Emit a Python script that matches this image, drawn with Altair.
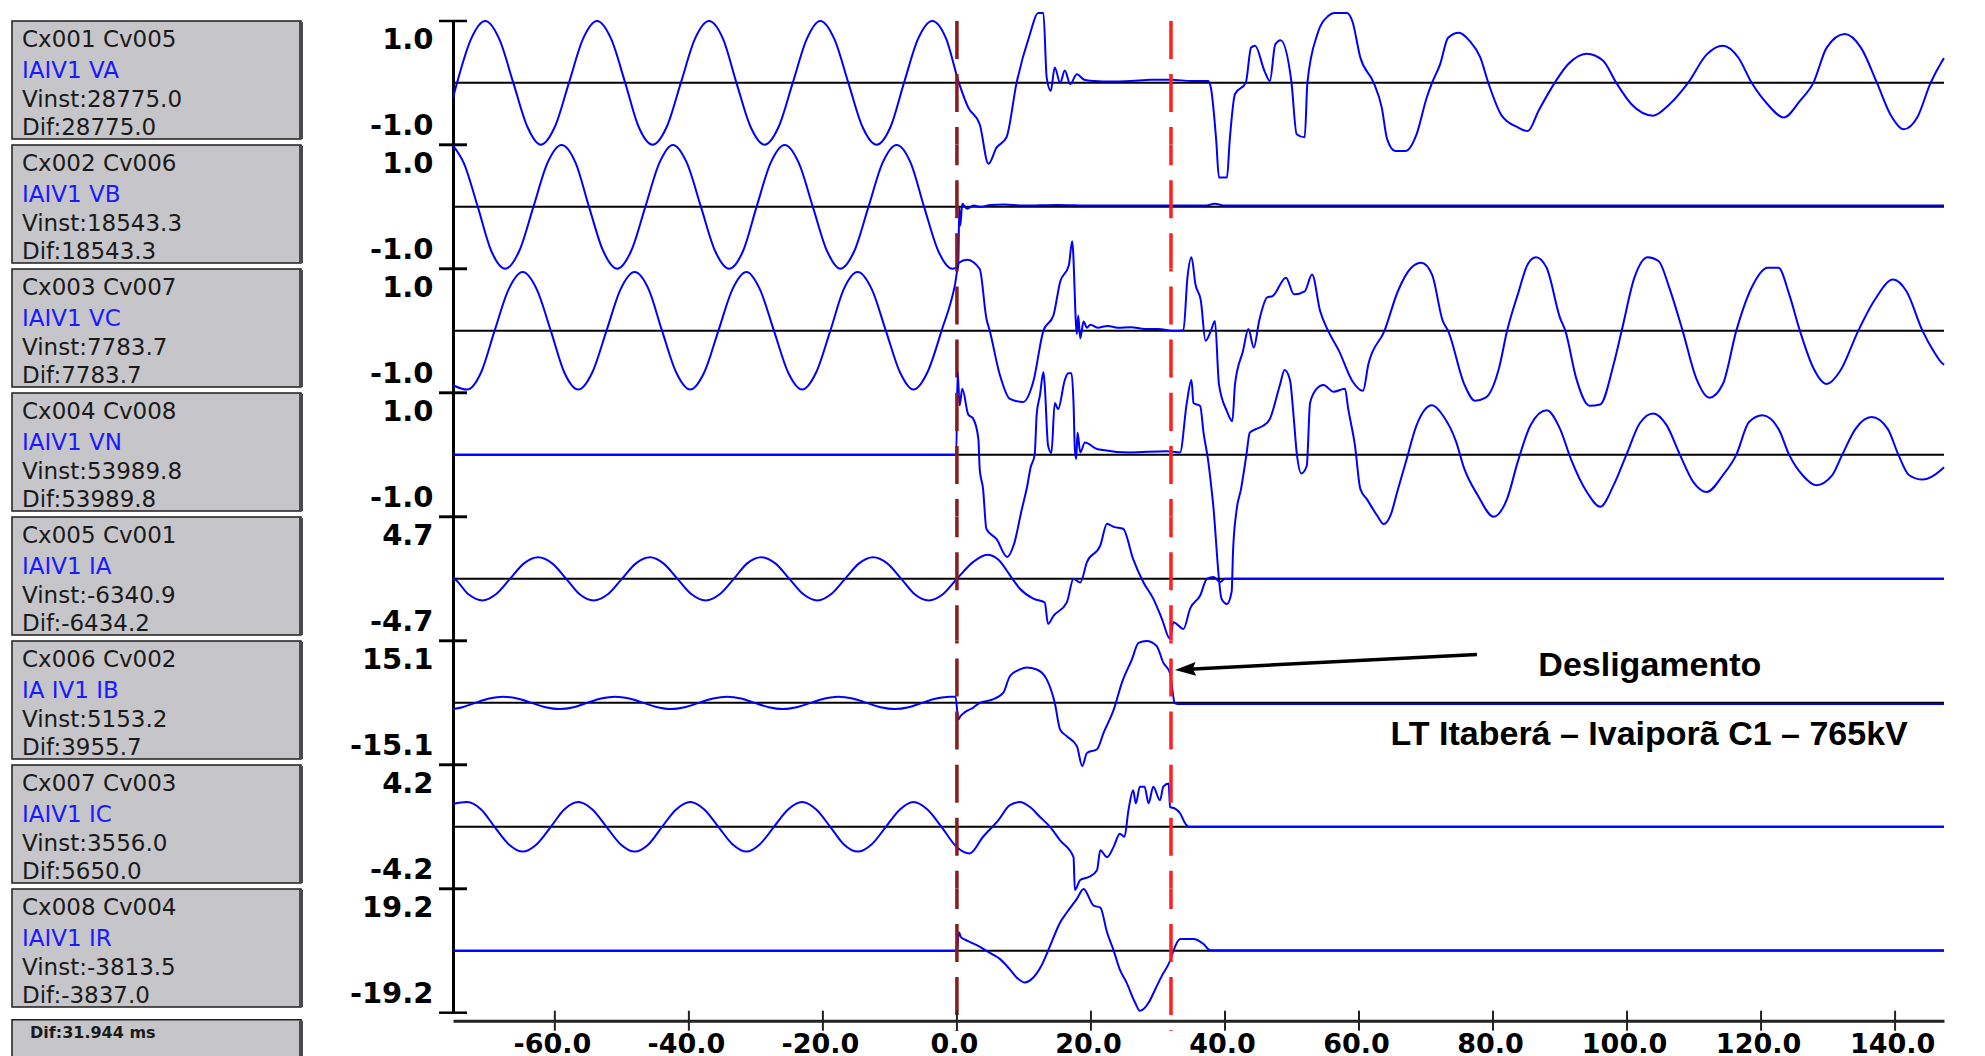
import altair as alt
import pandas as pd

# ---------------- layout constants (styles / sizes) ----------------
T_MIN, T_MAX = -75.2, 147.3
W, H = 1491, 123.7

# ---------------- data ----------------
CHANNELS = ["VA", "VB", "VC", "VN", "IA", "IB", "IC", "IR"]
FULL_SCALE = [1.0, 1.0, 1.0, 1.0, 4.7, 15.1, 4.2, 19.2]
BOX_LINE1 = ["Cx001 Cv005", "Cx002 Cv006", "Cx003 Cv007", "Cx004 Cv008",
             "Cx005 Cv001", "Cx006 Cv002", "Cx007 Cv003", "Cx008 Cv004"]
BOX_LINE2 = ["IAIV1 VA", "IAIV1 VB", "IAIV1 VC", "IAIV1 VN",
             "IAIV1 IA", "IA IV1 IB", "IAIV1 IC", "IAIV1 IR"]
BOX_VINST = ["Vinst:28775.0", "Vinst:18543.3", "Vinst:7783.7", "Vinst:53989.8",
             "Vinst:-6340.9", "Vinst:5153.2", "Vinst:3556.0", "Vinst:-3813.5"]
BOX_DIF = ["Dif:28775.0", "Dif:18543.3", "Dif:7783.7", "Dif:53989.8",
           "Dif:-6434.2", "Dif:3955.7", "Dif:5650.0", "Dif:-3837.0"]
CURSOR_DIF = "Dif:31.944 ms"
CURSORS = [0.0, 31.944]
CURSOR_COLORS = ["#8b1a1a", "#ff1f1f"]
X_TICKS = [-60, -40, -20, 0, 20, 40, 60, 80, 100, 120, 140]

# samples: (time ms, value as fraction of the channel full scale)
VA = [(-75.2,-0.24),(-74.6,0),(-72.5,0.71),(-70.4,1.0),(-68.3,0.71),(-66.2,0),(-64.1,-0.71),(-62.1,-1.0),
      (-60.0,-0.71),(-57.9,0),(-55.8,0.71),(-53.7,1.0),(-51.6,0.71),(-49.5,0),(-47.5,-0.71),(-45.4,-1.0),
      (-43.3,-0.71),(-41.2,0),(-39.1,0.71),(-37.0,1.0),(-34.9,0.71),(-32.9,0),(-30.8,-0.71),(-28.7,-1.0),
      (-26.6,-0.71),(-24.5,0),(-22.4,0.71),(-20.4,1.0),(-18.3,0.71),(-16.2,0),(-14.1,-0.71),(-12.0,-1.0),
      (-9.9,-0.71),(-7.9,0),(-5.8,0.71),(-3.7,1.0),(-1.6,0.71),(0.3,0),
      (1.7,-0.4),(3.4,-0.67),(4.7,-1.31),(5.9,-1.05),(7.4,-0.88),(8.9,0),(10.9,0.79),(12.1,1.13),(12.9,1.13),
      (13.4,0.08),(14.0,-0.13),(14.6,0.25),(15.4,0.0),(16.1,0.2),(16.9,-0.02),(17.9,0.14),(19.0,0.05),
      (20.5,0.03),(23.0,0.02),(26.0,0.03),(29.0,0.05),(32.0,0.05),(35.0,0.03),(37.5,0.03),
      (37.9,-0.08),(38.7,-0.94),(39.1,-1.53),(40.3,-1.53),(40.7,-0.94),(41.5,-0.18),(43.1,0.0),(43.9,0.57),
      (44.5,0.6),(45.9,0.19),(46.7,0.03),(47.5,0.62),(48.3,0.69),(49.9,0.03),(50.7,-0.83),(51.9,-0.88),
      (52.3,0),(53.8,0.79),(55.4,1.08),(56.3,1.13),(58.2,1.13),(59.0,1.0),(60.2,0.41),(62.2,0),(63.4,-0.4),
      (64.2,-0.91),(65.4,-1.1),(67.0,-1.1),(68.6,-0.83),(70.1,-0.24),(70.9,0),(72.1,0.3),(73.3,0.73),
      (74.9,0.81),(76.5,0.68),(78.1,0.41),(79.3,0),(81.3,-0.53),(83.7,-0.72),(85.2,-0.78),(86.8,-0.45),
      (89.2,0),(91.2,0.3),(94.0,0.47),(96.4,0.36),(98.4,0),(100.7,-0.35),(103.9,-0.53),(106.3,-0.35),
      (109.1,0),(111.9,0.46),(114.3,0.6),(116.6,0.41),(118.6,0),(121.0,-0.35),(123.4,-0.56),(125.8,-0.29),
      (127.8,0),(129.8,0.57),(132.5,0.79),(134.9,0.57),(137.3,0),(139.3,-0.51),(141.3,-0.75),(143.3,-0.56),
      (145.3,0),(146.9,0.33),(147.3,0.4)]

VB = [(-75.2,0.99),(-73.6,0.71),(-71.5,0),(-69.5,-0.71),(-67.4,-1.0),(-65.3,-0.71),(-63.2,0),(-61.1,0.71),
      (-59.0,1.0),(-56.9,0.71),(-54.9,0),(-52.8,-0.71),(-50.7,-1.0),(-48.6,-0.71),(-46.5,0),(-44.4,0.71),
      (-42.4,1.0),(-40.3,0.71),(-38.2,0),(-36.1,-0.71),(-34.0,-1.0),(-31.9,-0.71),(-29.9,0),(-27.8,0.71),
      (-25.7,1.0),(-23.6,0.71),(-21.5,0),(-19.4,-0.71),(-17.4,-1.0),(-15.3,-0.71),(-13.2,0),(-11.1,0.71),
      (-9.0,1.0),(-6.9,0.71),(-4.9,0),(-2.8,-0.71),(-0.7,-1.0),(0.2,-0.97),(0.35,0.0),(0.5,-0.3),(0.8,0.05),
      (1.5,-0.03),(2.5,0.02),(3.5,0.0),(5.0,0.03),(7.0,0.04),(10.0,0.02),(15.0,0.03),(20.0,0.02),(30.0,0.02),
      (37.0,0.02),(38.5,0.05),(40.0,0.02),(60.0,0.02),(100.0,0.02),(147.3,0.02)]

VC = [(-75.2,-0.88),(-73.1,-0.95),(-71.0,-0.67),(-69.0,0),(-66.9,0.67),(-64.8,0.95),(-62.7,0.67),(-60.6,0),
      (-58.6,-0.67),(-56.5,-0.95),(-54.4,-0.67),(-52.3,0),(-50.2,0.67),(-48.1,0.95),(-46.0,0.67),(-44.0,0),
      (-41.9,-0.67),(-39.8,-0.95),(-37.7,-0.67),(-35.6,0),(-33.5,0.67),(-31.4,0.95),(-29.4,0.67),(-27.3,0),
      (-25.2,-0.67),(-23.1,-0.95),(-21.0,-0.67),(-18.9,0),(-16.9,0.67),(-14.8,0.95),(-12.7,0.67),(-10.6,0),
      (-8.5,-0.67),(-6.5,-0.95),(-4.4,-0.67),(-2.3,0),(-0.3,0.74),(0.3,1.1),(1.5,1.15),(3.4,1.0),(4.4,0.2),
      (4.9,0),(6.4,-0.71),(7.9,-1.1),(9.9,-1.15),(11.4,-0.82),(12.9,0),(14.4,0.25),(15.4,0.79),(16.7,1.06),
      (17.2,1.45),(17.9,-0.05),(18.1,0.25),(18.4,-0.12),(18.9,0.15),(19.4,0.05),(19.9,0.1),(21.0,0.05),
      (22.5,0.08),(24.0,0.05),(26.0,0.06),(28.0,0.03),(30.0,0.03),(32.5,0.0),(33.8,0.01),
      (34.4,0.86),(35.0,1.19),(35.6,0.75),(36.4,0.49),(37.1,-0.16),(37.9,0),(38.5,0.16),(39.1,-0.86),
      (40.3,-1.3),(41.1,-1.46),(41.5,-0.86),(42.7,-0.32),(43.5,0.03),(44.3,-0.27),(45.1,0.16),(46.3,0.54),
      (47.1,0.56),(49.1,0.86),(50.3,0.59),(51.9,0.64),(53.0,0.91),(54.2,0.32),(55.4,0),(57.0,-0.32),
      (59.0,-0.81),(60.6,-0.97),(61.4,-0.54),(63.8,0),(65.8,0.64),(67.8,1.02),(69.3,1.1),(70.9,0.91),
      (72.5,0.16),(73.3,0),(75.7,-0.86),(77.3,-1.13),(78.9,-1.08),(80.9,-0.6),(82.1,0),(83.7,0.59),
      (85.2,1.08),(86.4,1.19),(88.0,1.02),(90.0,0.21),(90.8,0),(92.4,-0.76),(94.4,-1.21),(96.0,-1.19),
      (98.0,-0.54),(99.2,0),(101.1,0.86),(103.1,1.19),(104.7,1.13),(106.3,0.7),(108.3,0),(110.3,-0.76),
      (112.3,-1.08),(114.3,-0.86),(116.3,0),(118.6,0.7),(121.0,1.02),(122.6,1.02),(124.2,0.59),(125.8,0),
      (127.8,-0.6),(129.8,-0.86),(131.8,-0.65),(134.5,0),(136.9,0.49),(139.7,0.83),(141.7,0.64),(144.1,0),
      (145.7,-0.32),(146.9,-0.51),(147.3,-0.55)]

VN = [(-75.2,0),(-0.1,0),(0.1,1.34),(0.4,0.8),(0.8,1.07),(1.7,0.65),(2.4,0.59),(3.2,0.26),(3.4,-0.23),
      (3.9,-0.55),(4.4,-1.2),(5.9,-1.36),(7.5,-1.65),(8.5,-1.45),(9.7,-0.87),(10.5,-0.5),(11.0,-0.2),
      (11.6,0),(11.9,0.65),(12.4,0.97),(12.9,1.34),(13.1,1.13),(13.6,0.15),(14.1,0.03),(14.6,0.84),
      (15.1,0.74),(16.1,1.21),(16.6,1.32),(17.1,1.32),(17.4,0.84),(17.6,0.09),(17.8,-0.07),(18.0,0.36),
      (18.4,0.04),(19.1,0.2),(21.0,0.09),(25.8,0.04),(31.3,0.06),(33.3,0.04),(34.3,0.84),(35.0,1.21),
      (35.3,0.84),(36.3,0.79),(36.8,0.36),(37.5,-0.1),(38.2,-0.76),(39.5,-2.33),(40.3,-2.41),(41.0,-2.21),
      (41.2,-1.57),(41.7,-0.92),(42.4,-0.55),(43.2,0),(43.7,0.36),(44.7,0.42),(45.7,0.47),(46.7,0.58),
      (48.2,1.13),(48.9,1.37),(49.7,1.21),(50.2,0.68),(50.7,0.04),(51.4,-0.3),(52.2,-0.18),(52.7,0.84),
      (53.7,1.07),(54.7,1.13),(56.2,1.02),(57.9,1.07),(58.4,0.74),(59.4,0.15),(60.2,-0.55),(61.2,-0.72),
      (62.7,-0.98),(63.7,-1.12),(64.7,-0.98),(65.7,-0.6),(67.0,-0.11),(68.6,0.48),(70.9,0.8),(72.5,0.64),
      (74.5,0.21),(75.7,-0.22),(77.7,-0.65),(80.1,-1.0),(82.1,-0.71),(83.7,-0.11),(85.6,0.48),(88.0,0.72),
      (90.0,0.42),(91.6,-0.06),(94.0,-0.6),(96.0,-0.84),(98.0,-0.49),(99.9,0),(101.9,0.51),(103.9,0.67),
      (105.9,0.48),(107.9,0),(109.9,-0.44),(111.9,-0.6),(114.3,-0.33),(116.3,0),(118.2,0.53),(120.2,0.64),
      (122.6,0.42),(124.2,0),(126.2,-0.33),(128.2,-0.49),(130.6,-0.33),(132.1,0),(134.1,0.42),(136.5,0.61),
      (138.9,0.42),(140.5,0),(142.1,-0.33),(144.1,-0.4),(146.9,-0.24),(147.3,-0.2)]

IA = [(-75.2,0.01),(-75.0,0),(-72.9,-0.25),(-70.8,-0.35),(-68.8,-0.25),(-66.7,0),(-64.6,0.25),(-62.5,0.35),
      (-60.4,0.25),(-58.3,0),(-56.3,-0.25),(-54.2,-0.35),(-52.1,-0.25),(-50.0,0),(-47.9,0.25),(-45.8,0.35),
      (-43.8,0.25),(-41.7,0),(-39.6,-0.25),(-37.5,-0.35),(-35.4,-0.25),(-33.3,0),(-31.3,0.25),(-29.2,0.35),
      (-27.1,0.25),(-25.0,0),(-22.9,-0.25),(-20.8,-0.35),(-18.8,-0.25),(-16.7,0),(-14.6,0.25),(-12.5,0.35),
      (-10.4,0.25),(-8.3,0),(-6.3,-0.25),(-4.2,-0.35),(-2.1,-0.25),(0.0,0),(2.4,0.27),(4.5,0.39),(6.2,0.31),
      (7.9,0.06),(9.4,-0.16),(11.4,-0.32),(13.1,-0.38),(13.6,-0.73),(14.4,-0.6),(16.4,-0.38),(17.4,0),
      (18.4,-0.06),(19.4,0.27),(21.4,0.54),(22.4,0.89),(23.4,0.84),(24.8,0.81),(26.3,0.32),(27.8,-0.05),
      (29.3,-0.32),(30.6,-0.65),(31.8,-0.97),(32.3,-0.7),(33.8,-0.81),(34.8,-0.48),(36.3,-0.27),(37.3,0),
      (38.3,0.03),(39.3,-0.05),(40.0,0),(147.3,0)]

IB = [(-75.2,-0.1),(-73.8,-0.07),(-71.9,0),(-69.8,0.07),(-67.7,0.1),(-65.6,0.07),(-63.5,0),(-61.4,-0.07),
      (-59.3,-0.1),(-57.2,-0.07),(-55.2,0),(-53.1,0.07),(-51.0,0.1),(-48.9,0.07),(-46.8,0),(-44.7,-0.07),
      (-42.7,-0.1),(-40.6,-0.07),(-38.5,0),(-36.4,0.07),(-34.3,0.1),(-32.2,0.07),(-30.2,0),(-28.1,-0.07),
      (-26.0,-0.1),(-23.9,-0.07),(-21.8,0),(-19.7,0.07),(-17.7,0.1),(-15.6,0.07),(-13.5,0),(-11.4,-0.07),
      (-9.3,-0.1),(-7.2,-0.07),(-5.2,0),(-3.1,0.07),(-1.0,0.1),(-0.2,0.1),(0.2,-0.27),(0.5,-0.22),(1.2,-0.15),
      (2.4,-0.08),(3.4,0),(5.2,0.05),(6.9,0.16),(7.9,0.43),(9.4,0.54),(10.4,0.57),(11.9,0.54),(13.4,0.38),
      (14.6,0),(15.4,-0.43),(16.4,-0.54),(17.9,-0.7),(18.7,-1.02),(19.4,-0.81),(20.9,-0.75),(21.9,-0.48),
      (23.4,-0.11),(24.6,0.32),(26.1,0.7),(27.1,0.97),(28.3,1.0),(29.8,0.92),(30.8,0.65),(31.8,0.48),
      (32.5,0),(33.0,-0.02),(147.3,-0.02)]

IC = [(-75.2,0.37),(-73.1,0.4),(-71.0,0.28),(-69.0,0),(-66.9,-0.28),(-64.8,-0.4),(-62.7,-0.28),(-60.6,0),
      (-58.6,0.28),(-56.5,0.4),(-54.4,0.28),(-52.3,0),(-50.2,-0.28),(-48.1,-0.4),(-46.0,-0.28),(-44.0,0),
      (-41.9,0.28),(-39.8,0.4),(-37.7,0.28),(-35.6,0),(-33.5,-0.28),(-31.4,-0.4),(-29.4,-0.28),(-27.3,0),
      (-25.2,0.28),(-23.1,0.4),(-21.0,0.28),(-18.9,0),(-16.9,-0.28),(-14.8,-0.4),(-12.7,-0.28),(-10.6,0),
      (-8.5,0.28),(-6.5,0.4),(-4.4,0.28),(-2.3,0),(0.0,-0.33),(1.9,-0.43),(3.9,-0.16),(6.2,0.11),(7.9,0.35),
      (9.4,0.4),(10.9,0.32),(12.4,0.16),(13.9,0),(15.4,-0.22),(17.4,-0.49),(17.6,-1.02),(18.4,-0.86),
      (19.7,-0.81),(20.9,-0.7),(21.4,-0.38),(22.4,-0.49),(23.4,-0.32),(24.3,-0.11),(25.0,-0.16),(25.6,0.27),
      (26.3,0.59),(26.7,0.38),(27.3,0.65),(28.0,0.65),(28.6,0.38),(29.3,0.65),(30.3,0.43),(30.8,0.65),
      (31.6,0.7),(31.8,0.32),(32.5,0.3),(33.3,0.22),(34.1,0.05),(34.6,0),(147.3,0)]

IR = [(-75.2,0),(0.0,0),(0.3,0.3),(0.6,0.22),(1.2,0.18),(2.2,0.13),(3.7,0.05),(5.2,-0.05),(6.4,-0.13),
      (7.9,-0.3),(8.9,-0.43),(10.1,-0.51),(11.4,-0.43),(12.6,-0.24),(13.9,0.08),(15.4,0.46),(16.4,0.62),
      (17.9,0.84),(18.9,1.0),(20.4,0.73),(21.4,0.7),(22.4,0.3),(23.4,0),(24.3,-0.3),(25.3,-0.51),
      (26.6,-0.84),(27.3,-0.97),(28.6,-0.84),(29.6,-0.62),(30.6,-0.4),(31.8,-0.16),(32.3,0),(33.3,0.19),
      (35.3,0.19),(36.8,0.11),(37.8,0.01),(147.3,0.01)]

SERIES = [VA, VB, VC, VN, IA, IB, IC, IR]

# annotation (in IB panel units)
ANN_TEXT = ["Desligamento", "LT Itaberá – Ivaiporã C1 – 765kV"]
ANN_T = [103.4, 103.3]
ANN_V = [9.0, -7.85]
ARROW = {"t1": [77.6], "v1": [11.8], "t2": [34.6], "v2": [8.2], "th": [34.1], "vh": [8.17]}

LABEL_EXPR = "(datum.value < 0 ? '-' : '') + format(abs(datum.value), '.1f')"
BOX_ROWS_Y = [19, 49.5, 78.5, 107]


def panel(i):
    m = FULL_SCALE[i]
    last = i == len(CHANNELS) - 1
    df = pd.DataFrame(SERIES[i], columns=["t", "v"])
    df["v"] = df["v"] * m
    ysc = alt.Scale(domain=[-m, m], nice=False, zero=False)
    xsc = alt.Scale(domain=[T_MIN, T_MAX], nice=False, zero=False)
    yaxis = alt.Axis(values=[-m, m], labelExpr=LABEL_EXPR, labelFlush=True, labelFlushOffset=-4,
                     ticks=False, tickSize=0, domain=True, domainColor="black", domainWidth=3,
                     grid=False, title=None, labelFont="DejaVu Sans", labelFontSize=29,
                     labelFontWeight="bold", labelColor="black", labelPadding=20, labelOverlap=False)
    if last:
        xaxis = alt.Axis(values=X_TICKS, labelExpr=LABEL_EXPR, offset=8, ticks=False, tickSize=0,
                         domain=True, domainColor="#222222", domainWidth=3, labelPadding=11,
                         labelFont="DejaVu Sans", labelFontSize=27, labelFontWeight="bold",
                         labelColor="black", grid=False, title=None, labelOverlap=False, labelFlush=False,
                         labelOffset=-3)
    else:
        xaxis = None

    def X(f):
        return alt.X(f, scale=xsc, axis=xaxis)

    def Y(f):
        return alt.Y(f, scale=ysc, axis=yaxis)

    info = pd.DataFrame({"l1": [BOX_LINE1[i]], "l2": [BOX_LINE2[i]],
                         "l3": [BOX_VINST[i]], "l4": [BOX_DIF[i]]})

    layers = []
    layers.append(alt.Chart(info).mark_rect(fill="#c6c5ca", stroke="#1e1e1e", strokeWidth=1.5).encode(
        x=alt.value(-441), x2=alt.value(-152), y=alt.value(0), y2=alt.value(118)))
    layers.append(alt.Chart(info).mark_rule(color="#4a4a4a", strokeWidth=4).encode(
        x=alt.value(-152), y=alt.value(1), y2=alt.value(118)))
    for col, yy, colr in zip(["l1", "l2", "l3", "l4"], BOX_ROWS_Y,
                             ["#1a1a1a", "#1a1aff", "#1a1a1a", "#1a1a1a"]):
        layers.append(alt.Chart(info).mark_text(align="left", baseline="middle", font="DejaVu Sans",
                                                fontSize=23, color=colr).encode(
            x=alt.value(-431), y=alt.value(yy), text=f"{col}:N"))

    layers.append(alt.Chart(pd.DataFrame({"z": [0.0]})).mark_rule(color="black", strokeWidth=2).encode(
        y=Y("z:Q")))
    layers.append(alt.Chart(pd.DataFrame({"yt": [-m, m]})).mark_rule(color="black", strokeWidth=2.5).encode(
        y=Y("yt:Q"), x=alt.value(-14), x2=alt.value(14)))

    layers.append(alt.Chart(df).mark_line(color="#0000ff", strokeWidth=2, interpolate="monotone").encode(
        x=X("t:Q"), y=Y("v:Q")))

    cur = pd.DataFrame({"t": CURSORS, "c": CURSOR_COLORS})
    off = (H * i) % 53
    layers.append(alt.Chart(cur).mark_rule(strokeWidth=3.5, strokeDash=[38, 15], strokeDashOffset=off).encode(
        x=X("t:Q"), color=alt.Color("c:N", scale=None),
        y=alt.value(0), y2=alt.value(H + (18 if last else 0))))

    if CHANNELS[i] == "IB":
        ann = pd.DataFrame({"t": ANN_T, "v": ANN_V, "txt": ANN_TEXT})
        layers.append(alt.Chart(ann).mark_text(font="Liberation Sans", fontWeight="bold", fontSize=34,
                                               color="black", align="center", baseline="middle").encode(
            x=X("t:Q"), y=Y("v:Q"), text="txt:N"))
        arr = pd.DataFrame(ARROW)
        layers.append(alt.Chart(arr).mark_rule(color="black", strokeWidth=3.5).encode(
            x=X("t1:Q"), y=Y("v1:Q"), x2="t2:Q", y2="v2:Q"))
        layers.append(alt.Chart(arr).mark_point(shape="M -1 0 L 1 -0.66 L 0.7 0 L 1 0.66 Z", size=440,
                                                filled=True, color="black", opacity=1, angle=357).encode(
            x=X("th:Q"), y=Y("vh:Q")))

    if last:
        xt = pd.DataFrame({"xt": X_TICKS})
        layers.append(alt.Chart(xt).mark_rule(color="#222222", strokeWidth=2).encode(
            x=X("xt:Q"), y=alt.value(H + 8 - 10), y2=alt.value(H + 8 + 10)))
        bot = pd.DataFrame({"d": [CURSOR_DIF]})
        layers.append(alt.Chart(bot).mark_rect(fill="#c6c5ca", stroke="#1e1e1e", strokeWidth=1.5).encode(
            x=alt.value(-441), x2=alt.value(-152), y=alt.value(H + 7), y2=alt.value(H + 60)))
        layers.append(alt.Chart(bot).mark_rule(color="#4a4a4a", strokeWidth=4).encode(
            x=alt.value(-152), y=alt.value(H + 8), y2=alt.value(H + 60)))
        layers.append(alt.Chart(bot).mark_text(align="left", baseline="middle", font="DejaVu Sans",
                                               fontSize=16, fontWeight="bold", color="#1a1a1a").encode(
            x=alt.value(-423), y=alt.value(H + 20), text="d:N"))

    return alt.layer(*layers).properties(width=W, height=H)


chart = alt.vconcat(*[panel(i) for i in range(len(CHANNELS))], spacing=0, bounds="flush").resolve_scale(
    x="independent", y="independent"
).properties(
    padding={"left": 3, "top": 0, "right": 5, "bottom": 0}, background="white"
).configure_view(stroke=None)

chart.save("out.html", embed_options={"renderer": "svg", "actions": False})
